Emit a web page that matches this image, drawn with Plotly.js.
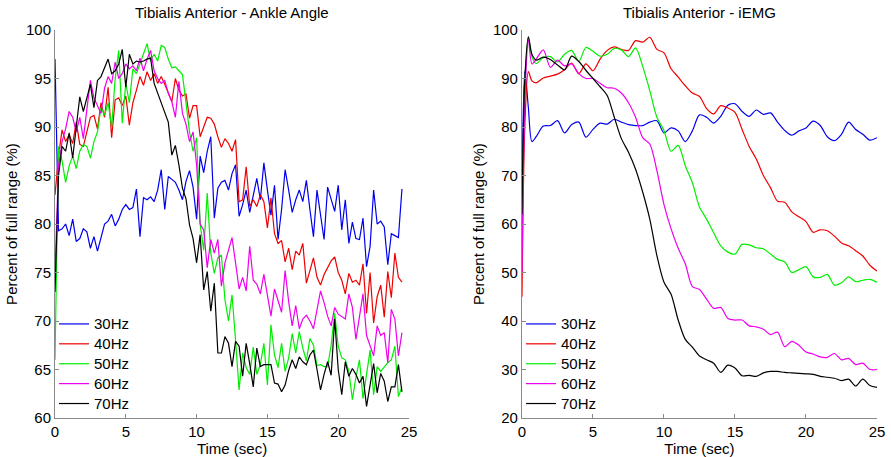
<!DOCTYPE html>
<html>
<head>
<meta charset="utf-8">
<script src="https://cdn.plot.ly/plotly-3.0.1.min.js"></script>
<style>html,body{margin:0;padding:0;background:#fff;}#chart{width:891px;height:457px;}</style>
</head>
<body>
<div id="chart"></div>
<script>
// ---------- Data: Ankle Angle (left) ----------
var timeAngle = [0,0.25,0.5,0.75,1,1.25,1.5,1.75,2,2.25,2.5,2.75,3,3.25,3.5,3.75,4,4.25,4.5,4.75,5,5.25,5.5,5.75,6,6.25,6.5,6.75,7,7.25,7.5,7.75,8,8.25,8.5,8.75,9,9.25,9.5,9.75,10,10.25,10.5,10.75,11,11.25,11.5,11.75,12,12.25,12.5,12.75,13,13.25,13.5,13.75,14,14.25,14.5,14.75,15,15.25,15.5,15.75,16,16.25,16.5,16.75,17,17.25,17.5,17.75,18,18.25,18.5,18.75,19,19.25,19.5,19.75,20,20.25,20.5,20.75,21,21.25,21.5,21.75,22,22.25,22.5,22.75,23,23.25,23.5,23.75,24,24.25,24.5];

var angle30 = [97,79.3,79.5,80,78.8,80.5,78.2,78.5,79.5,79.2,77.5,78.7,77.2,78.5,80,80.3,81,79.8,80.5,81.5,82,81.5,81.7,83.6,78.7,82.7,82.5,82.8,82.3,83.5,85.6,81.5,84.9,84.6,84.3,83.5,82.5,84.4,85.5,83.8,80.5,87,85.3,87.5,89,80.6,83.7,84.3,84.5,83.5,85.2,86.1,80.8,82,83.5,81.2,83,84.7,82.5,86.3,83.5,80.9,84,78.4,81.5,85.6,83.5,81.2,82.5,83.5,82.3,84.5,81.5,78.7,83.5,81,78.4,83.8,82.5,81.3,84,79.4,82.5,78,80.2,78.5,78.4,80.6,75.6,77.7,83.5,80,80.3,79.7,75.8,79,78.8,78.6,83.6];

var angle40 = [83,87,89.7,88.5,89.2,88.3,90.5,88.2,88,89.5,91,91.2,89.8,92.5,91,94.1,88.9,92.8,93,92.2,93.2,90.2,92.5,93.8,95.2,94.3,95.7,94.8,95.5,94.5,95.2,94.4,93.5,92.6,95,93.8,93.2,93.4,90.9,92.2,92.2,89,90,91,90.9,90.3,89,87.9,88.8,88.3,87.5,88.7,82.3,82.5,85.9,81.8,82.5,81.8,83,82.3,79.6,82.7,79,78,78.3,76.1,77.5,75.3,77.2,76.8,78,73.9,75.2,76.5,74.5,73.7,74.8,75.5,76.2,76.6,75,74.2,72.8,74.9,74,74.2,73.7,75.9,70.8,75,69.8,72.5,73.7,70.4,75.1,72.4,77,74.5,74];

var angle50 = [66,88,86.5,84.3,86,87,85.7,87.5,88.2,88,86.8,88.5,89.5,92,91.2,92.5,90,95,97.9,90.4,94.5,92.5,96,95.5,96.5,97.6,98.6,96.8,97.5,96.8,98.4,98.2,97,96.1,96.2,95.8,95.4,92.5,89.5,87.5,88.9,80,77.3,83.2,77,74.9,76.5,76.8,72.2,70,72.7,68,62.9,66.7,65.2,64.5,67.3,64.5,65.5,67.7,63.4,69.6,66.5,65.2,67.7,64.8,66.2,68.7,66.7,68.9,67.2,65.9,68.2,67.5,65.4,65.5,65.3,65.3,67.5,70.8,67.4,66.2,66,64.8,61.9,64.2,66,62,64.7,67,62.4,65.3,64.8,65.3,65.7,66,67.4,62.2,63.2];

var angle60 = [75,86,88.5,89.8,91.6,91,89.5,91,88.8,92,94.8,93,92.2,91.4,94,95.2,94.5,96.7,95,95.5,96.5,96,96.3,95.8,97.1,95.8,97,97.9,95.8,95,94.5,94.8,93.5,92.6,91,94.7,91.4,90.3,88.5,89.5,86.1,80,79.4,75.5,78.4,77,78.4,73.6,76,77.3,78.6,76,73.3,74.5,73.1,77.7,74.2,73.8,72.8,74.8,72.5,70.5,73.3,72,70.9,75.2,72,69.5,71.6,69.2,70.2,70.6,70,69.2,71,73.1,71.9,70.5,69.5,71.4,70.7,70.4,70.2,72.8,71.4,68.1,70.3,72.8,68.5,67.5,66.4,69.5,68.5,68.8,65.7,71.2,70.2,66.4,68.8];

var angle70 = [73,85,88,87.5,89.4,86.8,90,93.1,91.6,93,94.4,92,94.8,95.2,96.2,97,95.5,95.8,96.5,98,94.1,97.5,96.5,96.8,96.7,96.8,97,97.1,94.5,93.5,92.4,91.5,90.5,87.1,88.1,86.1,83.7,82.6,79.9,78.5,76,78.9,73.2,75.1,71,73.9,66.7,66.7,68.4,67.7,65.3,67.9,67.4,64.3,67.7,65.6,63.2,67.2,65.3,65.5,65.5,65.5,63.6,63.5,62.7,63.4,64.9,66,65.1,66.3,65.8,65.5,66.5,67,65,62.9,64.5,65.8,64.4,70.2,65,62.4,65.8,64.3,65.1,64.5,63.6,64.3,61.2,63.5,65.6,62.6,64.6,63.8,61.7,63.2,63.2,65.5,62.7];

// ---------- Data: iEMG (right) ----------
var timeEMG = [0,0.2,0.45,0.7,1,1.5,2,2.5,3,3.5,4,4.5,5,5.5,6,6.5,7,7.5,8,8.5,9,9.5,10,10.5,11,11.5,12,12.5,13,13.5,14,14.5,15,15.5,16,16.5,17,17.5,18,18.5,19,19.5,20,20.5,21,21.5,22,22.5,23,23.5,24,24.5,25];

var emg30 = [65,91.5,84,77,78,80.2,80.3,81.3,78.8,80.5,81,77.9,79.5,80.8,80.6,81.6,81,80.5,80.3,80.3,81,81.3,78.8,79.8,79.2,77,79.2,82.5,82,80.8,82.2,84.5,84.8,83.2,82.2,83.5,82.6,82.9,81,79.3,78.3,79.2,79.8,81.2,80.3,78,77.2,78.5,81,79.5,78.5,77.3,77.8];

var emg40 = [45,80,91.4,89.5,89.1,90.1,90.5,90.9,91.8,93.2,91,93,91.6,94,95.8,96.5,96,95.8,97.8,97.5,98.5,96,95.3,92,90.3,88.5,87,86.3,83.8,82.7,84.4,83.9,83,79.5,76,73.4,70,67.5,64.7,64.5,62.5,61.5,60.5,58.3,58.8,58.6,57.5,56.1,55.5,54.5,53.4,51.5,50.3];

var emg50 = [58,88,98.6,94.5,93.1,94.3,94.5,93.4,95,95.8,93.5,96.4,95.6,94.6,95,96.2,95.9,94.5,96.3,92.5,87.5,82,79.3,75,76.2,72,68.5,63.5,61,58.2,55.5,54.2,53.8,55.8,55.7,55.1,54.9,53.8,52.7,52.2,50,50.6,51.2,49.1,49,49.6,47.4,47.9,49.1,48.1,48.4,48.6,48];

var emg60 = [50,85,98,93,94,95.9,92.3,93.8,92.6,93,91,90,90,89,88.1,88,87,85,82,77.8,76.5,71,64,59,55,51.8,47.1,46.5,44.5,42.6,42.8,40.5,40.2,40.2,39,38.8,38.3,37.2,37.7,34.7,35.8,35,33.6,33.2,32.6,32.5,33.3,32,32.3,31,31.3,30,30];

var emg70 = [62,90,98.6,95,93.8,94.4,93.9,92.8,91.8,94.6,93.5,91.7,90,88.3,86.5,82,77.6,74.8,71.3,66.6,61,53.5,48,45.5,40.2,36.2,34.6,32.8,32,31.3,29.4,30.9,30.3,28.7,28.8,28.6,29.3,29.6,29.6,29.4,29.3,29.2,29.1,29,28.6,28.4,28.2,27.7,28,26.6,28,26.7,26.3];

var seriesNames = ['30Hz','40Hz','50Hz','60Hz','70Hz'];
var seriesColors = ['#0000ee','#ee0000','#00ee00','#ee00ee','#000000'];
var angleSeries = [angle30, angle40, angle50, angle60, angle70];
var emgSeries = [emg30, emg40, emg50, emg60, emg70];

var FONT = 'Liberation Sans, Arial, Helvetica, sans-serif';
var traces = [];
angleSeries.forEach(function(vals, i){
  traces.push({x: timeAngle, y: vals, type:'scatter', mode:'lines', name: '<span style="font-size:15px">'+seriesNames[i]+'</span>',
    line:{color: seriesColors[i], width:1.2}, xaxis:'x', yaxis:'y', legend:'legend', hoverinfo:'skip'});
});
emgSeries.forEach(function(vals, i){
  traces.push({x: timeEMG, y: vals, type:'scatter', mode:'lines', name: '<span style="font-size:15px">'+seriesNames[i]+'</span>',
    line:{color: seriesColors[i], width:1.2, shape:'spline', smoothing:0.8}, xaxis:'x2', yaxis:'y2', legend:'legend2', hoverinfo:'skip'});
});

var axisCommon = {
  showgrid:false, zeroline:false, showline:true, linecolor:'#8a8a8a', linewidth:1,
  ticks:'inside', ticklen:4, tickcolor:'#8a8a8a', tickwidth:1,
  tickfont:{family:FONT, size:15, color:'#000'}, fixedrange:true
};
function ax(extra){ return Object.assign({}, axisCommon, extra); }

var layout = {
  width:891, height:457,
  margin:{l:55, r:14, t:30, b:39},
  paper_bgcolor:'#fff', plot_bgcolor:'#fff',
  font:{family:FONT, size:15, color:'#000'},
  xaxis: ax({domain:[0,0.4307], range:[0,25], tickvals:[0,5,10,15,20,25], anchor:'y',
    title:{text:'Time (sec)', font:{family:FONT,size:15,color:'#000'}, standoff:4}}),
  yaxis: ax({domain:[0,1], range:[60,100], tickvals:[60,65,70,75,80,85,90,95,100], anchor:'x',
    title:{text:'Percent of full range (%)', font:{family:FONT,size:15,color:'#000'}, standoff:4}}),
  xaxis2: ax({domain:[0.5681,1], range:[0,25], tickvals:[0,5,10,15,20,25], anchor:'y2',
    title:{text:'Time (sec)', font:{family:FONT,size:15,color:'#000'}, standoff:4}}),
  yaxis2: ax({domain:[0,1], range:[20,100], tickvals:[20,30,40,50,60,70,80,90,100], anchor:'x2',
    title:{text:'Percent of full range (%)', font:{family:FONT,size:15,color:'#000'}, standoff:4}}),
  legend:{x:-0.0012, y:0.281, xanchor:'left', yanchor:'top', bgcolor:'rgba(0,0,0,0)', borderwidth:0,
    font:{family:FONT, size:13, color:'#000'}, tracegroupgap:0},
  legend2:{x:0.5669, y:0.281, xanchor:'left', yanchor:'top', bgcolor:'rgba(0,0,0,0)', borderwidth:0,
    font:{family:FONT, size:13, color:'#000'}, tracegroupgap:0},
  showlegend:true,
  annotations:[
    {text:'Tibialis Anterior - Ankle Angle', xref:'paper', yref:'paper', x:0.2153, y:1.046, xanchor:'center', yanchor:'middle', showarrow:false, font:{family:FONT,size:15,color:'#000'}},
    {text:'Tibialis Anterior - iEMG', xref:'paper', yref:'paper', x:0.7841, y:1.046, xanchor:'center', yanchor:'middle', showarrow:false, font:{family:FONT,size:15,color:'#000'}}
  ]
};

Plotly.newPlot('chart', traces, layout, {displayModeBar:false, staticPlot:true});
</script>
</body>
</html>
